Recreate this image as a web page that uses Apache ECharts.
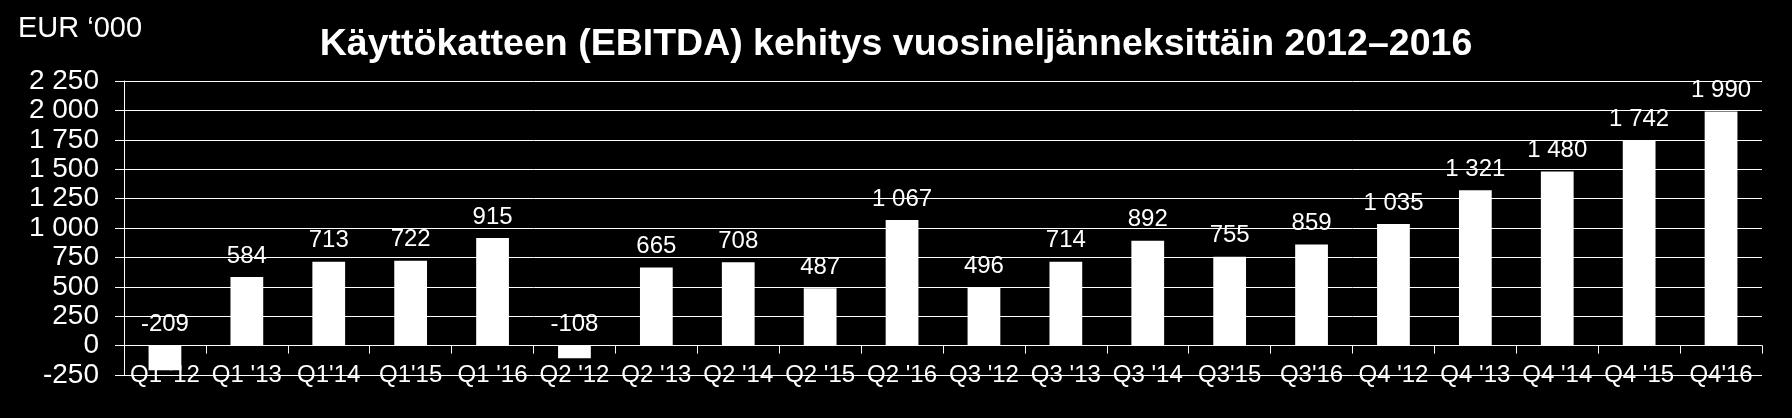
<!DOCTYPE html>
<html>
<head>
<meta charset="utf-8">
<script src="https://cdn.jsdelivr.net/npm/echarts@6/dist/echarts.min.js"></script>
<style>
html,body{margin:0;padding:0;background:#000;}
#c{width:1792px;height:418px;}
</style>
</head>
<body>
<div id="c"></div>
<script>
const categories = ["Q1 '12","Q1 '13","Q1'14","Q1'15","Q1 '16","Q2 '12","Q2 '13","Q2 '14","Q2 '15","Q2 '16","Q3 '12","Q3 '13","Q3 '14","Q3'15","Q3'16","Q4 '12","Q4 '13","Q4 '14","Q4 '15","Q4'16"];
const ebitda = [-209,584,713,722,915,-108,665,708,487,1067,496,714,892,755,859,1035,1321,1480,1742,1990];
const yMin = -250, yMax = 2250, yStep = 250;
const titleText = "Käyttökatteen (EBITDA) kehitys vuosineljänneksittäin 2012–2016";
const unitText = "EUR \u2018000";

function fmt(v, sep){
  const s = Math.abs(v).toString();
  const t = s.replace(/\B(?=(\d{3})+(?!\d))/g, sep);
  return (v < 0 ? '-' : '') + t;
}

const chart = echarts.init(document.getElementById('c'));
const FONT = '"Liberation Sans", Arial, sans-serif';
chart.setOption({
  backgroundColor: '#000',
  animation: false,
  title: [{
    text: titleText,
    left: 'center',
    top: 21,
    textStyle: {color:'#fff', fontSize:37.5, fontWeight:'bold', fontFamily:FONT}
  },{
    text: unitText,
    left: 13,
    top: 9,
    textStyle: {color:'#fff', fontSize:29, fontWeight:'normal', fontFamily:FONT}
  }],
  grid: {left:124, right:30, top:81, bottom:43},
  xAxis: {
    type:'category',
    data: categories,
    axisLine: {onZero:true, lineStyle:{color:'#fff', width:1}},
    axisTick: {show:true, length:8, alignWithLabel:false, lineStyle:{color:'#fff'}},
    axisLabel: {color:'#fff', fontSize:24, fontFamily:FONT, margin:-12, interval:0}
  },
  yAxis: {
    type:'value',
    min:yMin, max:yMax, interval:yStep,
    axisLine: {show:true, lineStyle:{color:'#fff', width:1}},
    axisTick: {show:true, length:9, lineStyle:{color:'#fff'}},
    splitLine: {show:true, lineStyle:{color:'#fff', width:1}},
    axisLabel: {color:'#fff', fontSize:28, fontFamily:FONT, margin:25,
      formatter: v => fmt(v, ' ')}
  },
  series: [{
    type:'bar',
    data: ebitda,
    barWidth:'40%',
    itemStyle:{color:'#fff'},
    label:{show:true, position:'top', distance:9, color:'#fff', fontSize:24, fontFamily:FONT,
      formatter: p => fmt(p.value, ' ')}
  }]
});
</script>
</body>
</html>
